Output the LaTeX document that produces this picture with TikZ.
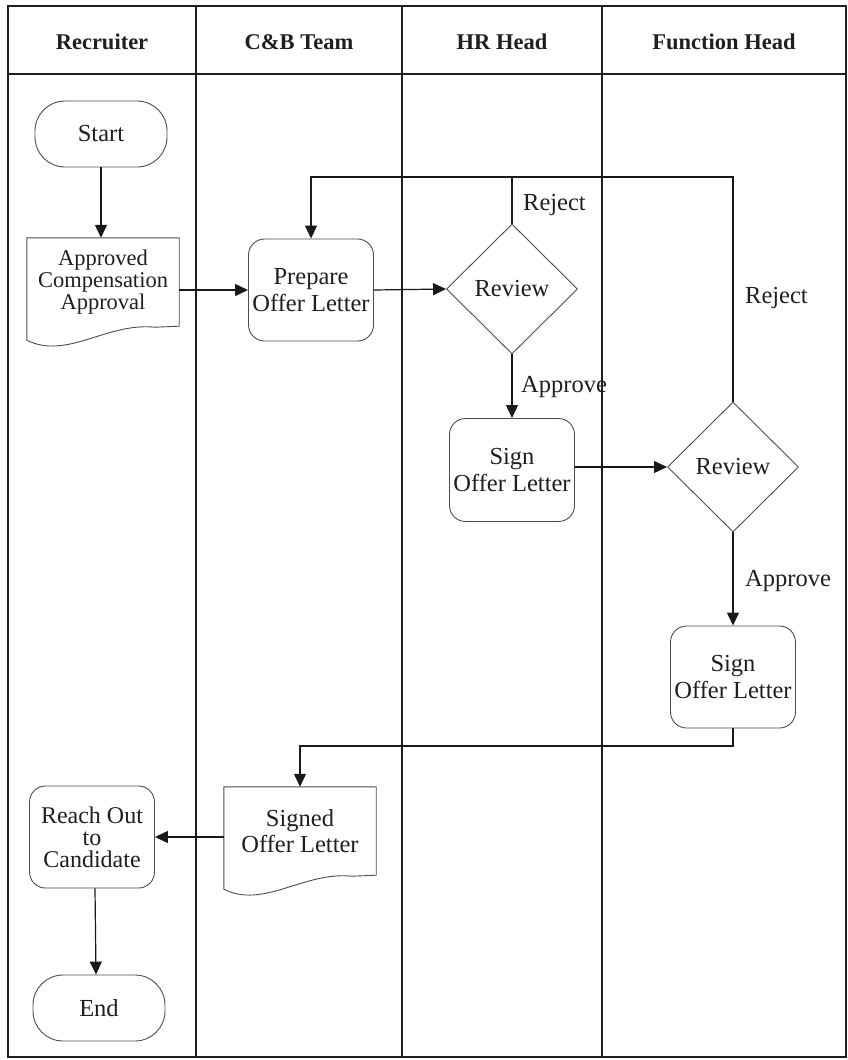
\documentclass[tikz,border=0pt]{standalone}
\usepackage{fontspec}
\setmainfont{Liberation Serif}
\usetikzlibrary{shapes.geometric,arrows.meta,calc}
\newcommand\mybody{\fontsize{24.5}{27}\selectfont}
\newcommand\mydoc{\fontsize{22.5}{22}\selectfont}
\newcommand\myhdr{\fontsize{22.5}{24}\selectfont\bfseries}
\newcommand\mydocshape[1]{\draw[shp] (#1.north west) -- (#1.north east) -- (#1.south east) -- ($(#1.south west)+(128,1)$) .. controls ($(#1.south west)+(80,-4)$) and ($(#1.south west)+(40,34)$) .. ($(#1.south west)+(0,14)$) -- cycle;}
\begin{document}
\begin{tikzpicture}[x=1pt,y=-1pt,
 every node/.style={text=black!88},
 line/.style={draw=black!88, line width=1.2pt},
 shp/.style={draw=black!70, line width=0.9pt},
 arr/.style={draw=black!90, line width=1.2pt, -{Triangle[length=13pt,width=12pt]}},
 term/.style={shp, rectangle, rounded corners=30pt, minimum width=132pt, minimum height=66pt, inner sep=0pt, align=center, font=\mybody},
 proc/.style={shp, rectangle, rounded corners=16pt, minimum width=125pt, minimum height=102pt, inner sep=0pt, align=center, font=\mybody},
 dec/.style={shp, diamond, minimum width=131pt, minimum height=130pt, inner sep=0pt, font=\mybody},
 docnode/.style={minimum width=152pt, minimum height=88pt, inner sep=0pt, align=center, font=\mydoc},
 lbl/.style={anchor=west, inner sep=0pt, font=\mybody},
 hdr/.style={font=\myhdr, inner sep=0pt}
]
\useasboundingbox (0,0) rectangle (848,1060);
% table
\draw[line] (8,6) rectangle (846,1057);
\draw[line] (8,74) -- (846,74);
\draw[line] (196,6) -- (196,1057);
\draw[line] (402,6) -- (402,1057);
\draw[line] (602,6) -- (602,1057);
\node[hdr] (h1) at (102,42) {Recruiter};
\node[hdr] (h2) at (299,42) {C\&B Team};
\node[hdr] (h3) at (502,42) {HR Head};
\node[hdr] (h4) at (724,42) {Function Head};
% nodes
\node[term] (start) at (101,134) {Start};
\node[docnode] (d1) at (103,282) {Approved\\Compensation\\Approval};
\mydocshape{d1}
\node[proc] (prep) at (311,290) {Prepare\\Offer Letter};
\node[dec] (rev1) at (512,289) {Review};
\node[proc, minimum height=103pt] (sign1) at (512,470) {Sign\\Offer Letter};
\node[dec] (rev2) at (733,467) {Review};
\node[proc] (sign2) at (733,677) {Sign\\Offer Letter};
\node[docnode, font=\fontsize{24.5}{25.5}\selectfont] (d2) at (300,831) {Signed\\Offer Letter};
\mydocshape{d2}
\node[proc, font=\fontsize{24}{22}\selectfont] (reach) at (92,837) {Reach Out\\to\\Candidate};
\node[term] (stop) at (99,1008) {End};
\coordinate (fb) at (733,177);
\coordinate (bt) at (733,746);
% labels
\node[lbl] (rj1) at (523,205) {Reject};
\node[lbl] (rj2) at (745,298) {Reject};
\node[lbl] (ap1) at (521,387) {Approve};
\node[lbl] (ap2) at (745,581) {Approve};
% connectors
\draw[arr] (start.south) -- (start.south |- d1.north);
\draw[arr] (prep.west -| d1.east) -- (prep.west);
\draw[arr] (prep.east) -- (rev1.west);
\draw[line] (rev1.north) -- (rev1.north |- fb);
\draw[arr] (rev2.north) -- (fb) -| (prep.north);
\draw[arr] (rev1.south) -- (sign1.north);
\draw[arr] (sign1.east |- rev2.west) -- (rev2.west);
\draw[arr] (rev2.south) -- (sign2.north);
\draw[arr] (sign2.south) -- (bt) -| (d2.north);
\draw[arr] (d2.west |- reach.east) -- (reach.east);
\draw[arr] ([xshift=3pt]reach.south) -- ([xshift=-3pt]stop.north);
\end{tikzpicture}
\end{document}
